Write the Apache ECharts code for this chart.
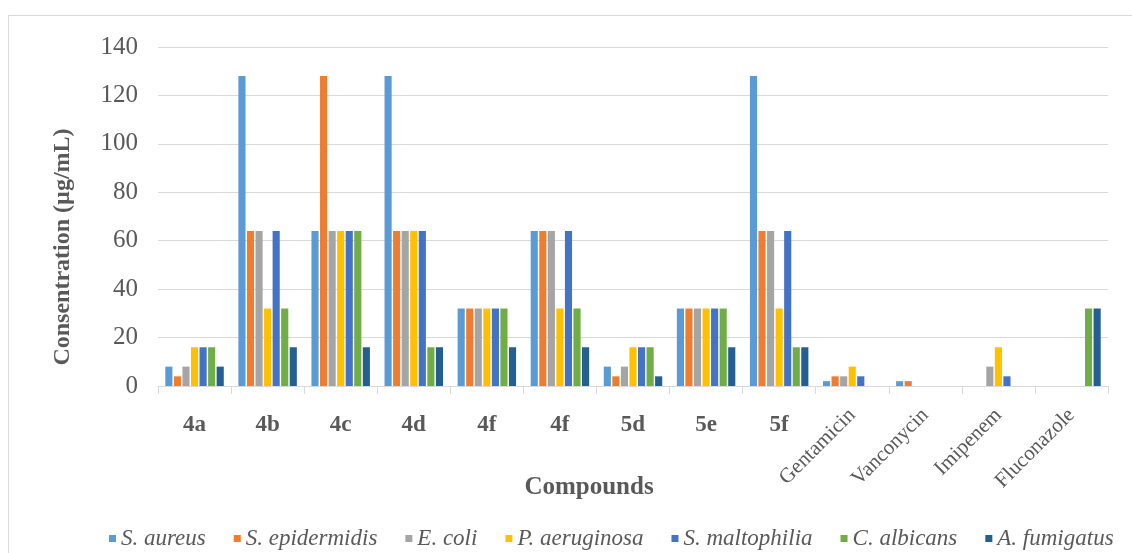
<!DOCTYPE html>
<html>
<head>
<meta charset="utf-8">
<script src="https://cdn.jsdelivr.net/npm/echarts@6/dist/echarts.min.js"></script>
<style>html,body{margin:0;padding:0;background:#fff;}#c{width:1132px;height:553px;}</style>
</head>
<body>
<div id="c"></div>
<script>
var categories = ['4a','4b','4c','4d','4f','4f','5d','5e','5f','Gentamicin','Vanconycin','Imipenem','Fluconazole'];
var seriesNames = ['S. aureus','S. epidermidis','E. coli','P. aeruginosa','S. maltophilia','C. albicans','A. fumigatus'];
var sAureus      = [8,128,64,128,32,64,8,32,128,2,2,0,0];
var sEpidermidis = [4,64,128,64,32,64,4,32,64,4,2,0,0];
var eColi        = [8,64,64,64,32,64,8,32,64,4,0,8,0];
var pAeruginosa  = [16,32,64,64,32,32,16,32,32,8,0,16,0];
var sMaltophilia = [16,64,64,64,32,64,16,32,64,4,0,4,0];
var cAlbicans    = [16,32,64,16,32,32,16,32,16,0,0,0,32];
var aFumigatus   = [8,16,16,16,16,16,4,16,16,0,0,0,32];
var yTicks = [0,20,40,60,80,100,120,140];
var colors = ['#5B9BD5','#ED7D31','#A5A5A5','#FFC000','#4472C4','#70AD47','#255E91'];
var allData = [sAureus,sEpidermidis,eColi,pAeruginosa,sMaltophilia,cAlbicans,aFumigatus];
var nShort = 9;
var serif = 'Liberation Serif';

var chart = echarts.init(document.getElementById('c'));
chart.setOption({
  animation: false,
  color: colors,
  grid: {left: 158, right: 24, top: 47, bottom: 167},
  graphic: [
    {type: 'rect', shape: {x: 8.5, y: 15.5, width: 1140, height: 560}, style: {fill: 'none', stroke: '#D9D9D9', lineWidth: 1}, silent: true},
    {type: 'text', x: 589, y: 488, style: {text: 'Compounds', font: 'bold 25px "Liberation Serif"', fill: '#595959', textAlign: 'center', textVerticalAlign: 'middle'}},
    {type: 'text', x: 63, y: 247, rotation: Math.PI / 2, style: {text: 'Consentration (µg/mL)', font: 'bold 24px "Liberation Serif"', fill: '#595959', textAlign: 'center', textVerticalAlign: 'middle'}}
  ],
  legend: {
    top: 522, left: 104, itemWidth: 7, itemHeight: 7, itemGap: 28,
    icon: 'rect',
    textStyle: {fontFamily: serif, fontStyle: 'italic', fontSize: 23, color: '#595959'},
    data: seriesNames
  },
  xAxis: [
    {
      type: 'category', data: categories,
      axisLine: {lineStyle: {color: '#D9D9D9'}},
      axisTick: {show: true, length: 8, lineStyle: {color: '#D9D9D9'}},
      axisLabel: {
        interval: 0, margin: 28, fontFamily: serif, fontWeight: 'bold', fontSize: 23, color: '#595959',
        formatter: function (v, i) { return i < nShort ? v : ''; }
      }
    },
    {
      type: 'category', data: categories, position: 'bottom',
      axisLine: {show: false}, axisTick: {show: false}, splitLine: {show: false},
      axisLabel: {
        interval: 0, margin: 26, rotate: 45, fontFamily: serif, fontSize: 21, color: '#595959',
        formatter: function (v, i) { return i >= nShort ? v : ''; }
      }
    }
  ],
  yAxis: {
    type: 'value', min: yTicks[0], max: yTicks[yTicks.length - 1], interval: 20,
    axisLine: {show: false}, axisTick: {show: false},
    axisLabel: {margin: 20, fontFamily: serif, fontSize: 25, color: '#595959'},
    splitLine: {lineStyle: {color: '#D9D9D9', width: 1}}
  },
  series: seriesNames.map(function (n, k) {
    return {name: n, type: 'bar', data: allData[k], xAxisIndex: 0, barGap: '20%', barCategoryGap: '20%'};
  })
});
</script>
</body>
</html>
